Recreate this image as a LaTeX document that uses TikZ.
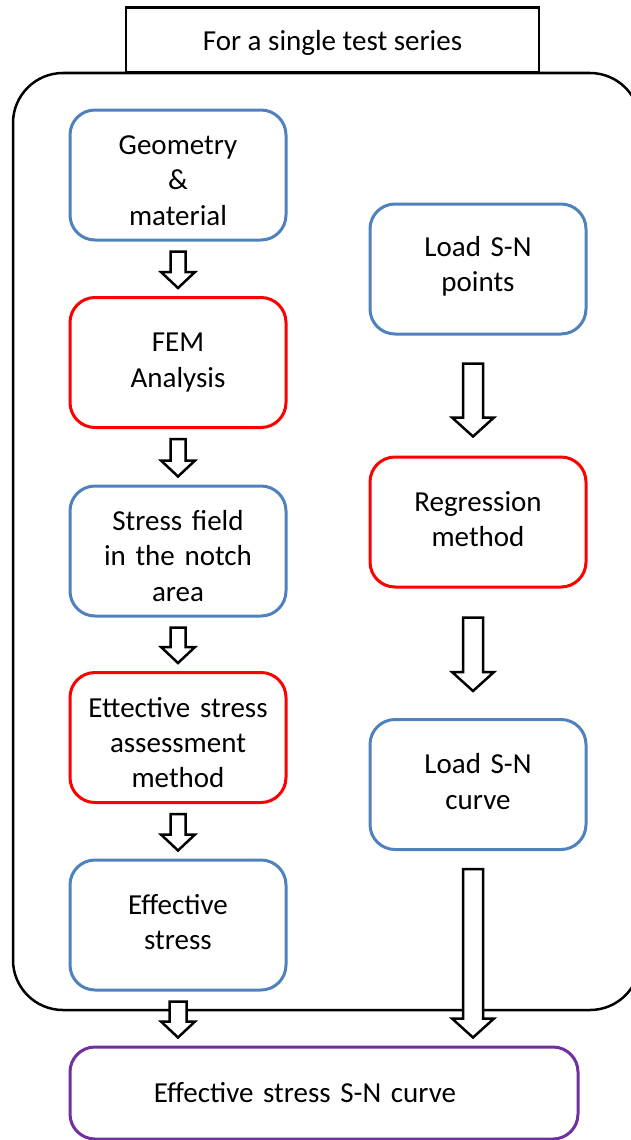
\documentclass[tikz,border=0pt]{standalone}
\usepackage{fontspec}
\setmainfont{Carlito}
\usetikzlibrary{calc}
\definecolor{bblue}{RGB}{79,129,189}
\definecolor{rred}{RGB}{255,0,0}
\definecolor{ppurple}{RGB}{112,48,160}
\tikzset{
  box/.style={rounded corners=25pt, line width=3pt, minimum width=216pt, minimum height=130pt,
    text width=210pt, align=center, inner sep=0pt, font=\fontsize{29}{35.4}\selectfont},
  bluebox/.style={box, draw=bblue},
  redbox/.style={box, draw=rred},
  lower/.style={execute at begin node={\rule{0pt}{30pt}}},
  raised/.style={execute at end node={\vspace*{6pt}}},
  purplebox/.style={box, draw=ppurple, minimum width=508pt, text width=500pt, minimum height=92pt},
  topbox/.style={draw=black, line width=2.5pt, fill=white, minimum width=413pt, minimum height=65pt,
    inner sep=0pt, font=\fontsize{29}{35.4}\selectfont},
  framebox/.style={draw=black, line width=2.5pt, rounded corners=50pt},
  blockarrow/.style={draw=black, fill=white, line width=2.5pt, line join=miter}
}
% #1 tail coordinate, #2 tip coordinate, #3 half shaft, #4 half head, #5 head length
\newcommand\blockarrow[5]{%
  \path[blockarrow] let \p1=(#1), \p2=(#2) in
    (\x1-#3pt,\y1) -- (\x1+#3pt,\y1) -- (\x1+#3pt,\y2+#5pt) -- (\x1+#4pt,\y2+#5pt)
    -- (\x1,\y2) -- (\x1-#4pt,\y2+#5pt) -- (\x1-#3pt,\y2+#5pt) -- cycle;}
\begin{document}
\begin{tikzpicture}[x=1pt,y=-1pt]
\useasboundingbox (0,0) rectangle (631,1140);
\begin{scope}
\clip (0,0) rectangle (631,1140);
\draw[framebox] (13,73) rectangle (640,1010);
\end{scope}
\node[topbox] (title) at (332.5,40) {\raisebox{-3pt}[\height][\depth]{For a single test series}};

\node[bluebox, lower] (geo) at (178,175) {Geometry\\\&\\material};
\node[redbox]  (fem) at (178,362.5) {FEM\\Analysis};
\node[bluebox, lower] (str) at (178,551) {Stress field\\in the notch\\area};
\node[redbox, lower]  (eff) at (178,737.5) {Ettective stress\\assessment\\method};
\node[bluebox, raised] (es)  at (178,925) {Effective\\stress};

\node[bluebox, raised] (load)  at (478,269) {Load S-N\\points};
\node[redbox, raised]  (reg)   at (478,522) {Regression\\method};
\node[bluebox, raised] (curve) at (478,784.5) {Load S-N\\curve};

\node[purplebox] (final) at (324,1093) {\hspace*{-38pt}Effective stress S-N curve};

% left column arrows
\coordinate (a1t) at ($(geo.south)+(0,10)$);  \coordinate (a1h) at ($(fem.north)+(0,-8)$);
\coordinate (a2t) at ($(fem.south)+(0,10)$);  \coordinate (a2h) at ($(str.north)+(0,-8)$);
\coordinate (a3t) at ($(str.south)+(0,10)$);  \coordinate (a3h) at ($(eff.north)+(0,-8)$);
\coordinate (a4t) at ($(eff.south)+(0,10)$);  \coordinate (a4h) at ($(es.north)+(0,-8)$);
\coordinate (a5t) at ($(es.south)+(0,10)$);   \coordinate (a5h) at ($(final.north -| es.south)+(0,-8)$);
\blockarrow{a1t}{a1h}{7.5}{17}{16}
\blockarrow{a2t}{a2h}{7.5}{17}{16}
\blockarrow{a3t}{a3h}{7.5}{17}{16}
\blockarrow{a4t}{a4h}{7.5}{17}{16}
\blockarrow{a5t}{a5h}{8.5}{17}{16}

% right column arrows
\coordinate (r1t) at ($(load.south)+(-5,28)$);  \coordinate (r1h) at ($(reg.north)+(-5,-19)$);
\coordinate (r2t) at ($(reg.south)+(-5,29)$);   \coordinate (r2h) at ($(curve.north)+(-5,-27)$);
\coordinate (r3t) at ($(curve.south)+(-5,18)$); \coordinate (r3h) at ($(final.north -| curve.south)+(-5,-8)$);
\blockarrow{r1t}{r1h}{10}{21}{19}
\blockarrow{r2t}{r2h}{10}{21}{19}
\blockarrow{r3t}{r3h}{10}{21}{19}
\end{tikzpicture}
\end{document}
